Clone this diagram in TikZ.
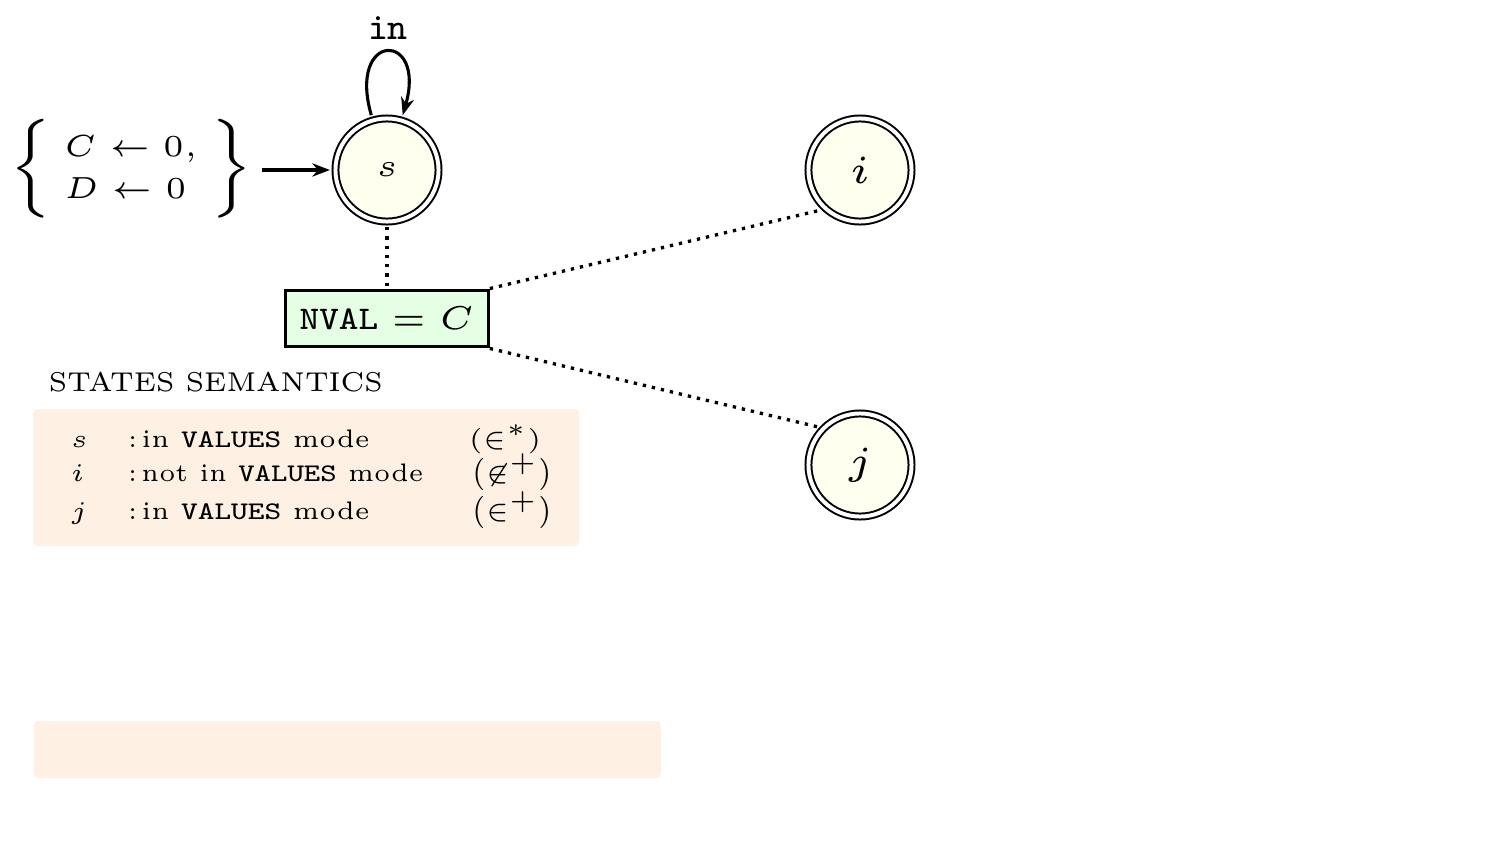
\documentclass[tikz,border=0pt]{standalone}
\usepackage{graphicx}
\usetikzlibrary{arrows.meta}
\definecolor{stfill}{RGB}{255,255,240}
\definecolor{boxgreen}{RGB}{229,255,229}
\definecolor{notefill}{RGB}{254,241,228}
% small design-size text, enlarged by a given factor
\newcommand{\smalltxt}[2]{\scalebox{#1}{\fontsize{5}{7}\selectfont #2}}
% same, with separate horizontal and vertical factors
\newcommand{\smalltxtxy}[3]{\scalebox{#1}[#2]{\fontsize{5}{7}\selectfont #3}}
% wide typewriter text
\newcommand{\widett}[1]{\scalebox{1.3}[1]{\texttt{#1}}}
% slightly taller delimiter, centred on the math axis
\newcommand{\tallparen}[1]{\vcenter{\hbox{\scalebox{1}[1.27]{$#1$}}}}
% brace of a fixed height, centred on the math axis
\newcommand{\bracedelim}[1]{\vcenter{\hbox{\nulldelimiterspace=0pt
  \scalebox{1}[0.9]{$\left#1\vcenter{\hbox{\rule{0pt}{14pt}}}\right.$}}}}
\begin{document}
\begin{tikzpicture}[x=0.227pt,y=0.227pt,
  state/.style={circle, draw, line width=0.45pt, double=white, double distance=0.9pt,
    fill=stfill, minimum size=23.4pt, inner sep=0pt, outer sep=1.25pt},
  arr/.style={line width=0.7pt, -{Stealth[length=4pt,width=3pt]}},
  dots/.style={line width=0.75pt, dash pattern=on 0.75pt off 1.35pt},
  note/.style={fill=notefill, rounded corners=1pt},
  lbl/.style={inner sep=0pt, anchor=base west},
]
\useasboundingbox (0,0) rectangle (1505,857);

% states
\node[state] (s) at (387,687) {\smalltxt{1.45}{$s$}};
\node[state] (i) at (860,687) {\smalltxt{1.8}{$i$}};
\node[state] (j) at (860,392) {\smalltxt{1.8}{$j$}};

% self loop on s
\draw[arr] (s.106) .. controls +(106:88) and +(74:88) .. (s.74);
\node (inlbl) at (388,829) {\smalltxt{1.7}{\ttfamily in}};

% initialisation
\node (init) at (131,688)
  {\smalltxt{1.385}{\setlength{\arraycolsep}{2.2pt}%
   $\mathopen{\bracedelim\{}\begin{array}{l} C\leftarrow 0,\\ D\leftarrow 0\end{array}\mathclose{\bracedelim\}}$}};
\coordinate (start) at (262,687);
\draw[arr] (start) -- (s);

% counter restriction
\node[draw, line width=0.7pt, fill=boxgreen, minimum width=46pt, minimum height=12.9pt,
  inner sep=0pt] (nv) at (387,538.5)
  {\smalltxt{1.5}{$\scalebox{1.12}[1]{$\mathtt{NVAL}$}=C$}};
\draw[dots] (s.south) -- (nv.north);
\draw[dots] (nv.north east) -- (i.225);
\draw[dots] (nv.south east) -- (j.138);

% states semantics
\node[lbl] (title) at (48,466) {\scalebox{1.03}{\fontsize{6}{7}\selectfont STATES SEMANTICS}};
\path[note] (33,311) rectangle (579,448);
\node[lbl] (r1a) at (70,410) {\smalltxt{1.15}{$s$}};
\node[lbl] (r1b) at (127,410) {\smalltxtxy{1.1}{1.15}{:\,in \widett{VALUES} mode}};
\node[lbl] (r1c) at (468,410) {\smalltxt{1.15}{$(\in^{*})$}};
\node[lbl] (r2a) at (70,376) {\smalltxt{1.15}{$i$}};
\node[lbl] (r2b) at (127,376) {\smalltxtxy{1.08}{1.15}{:\,not in \widett{VALUES} mode}};
\node[lbl] (r2c) at (471,376) {\smalltxt{1.15}{$\mathopen{\tallparen{(}}\not\in^{+}\mathclose{\tallparen{)}}$}};
\node[lbl] (r3a) at (70,338) {\smalltxt{1.15}{$j$}};
\node[lbl] (r3b) at (127,338) {\smalltxtxy{1.1}{1.15}{:\,in \widett{VALUES} mode}};
\node[lbl] (r3c) at (471,338) {\smalltxt{1.15}{$\mathopen{\tallparen{(}}\in^{+}\mathclose{\tallparen{)}}$}};

% empty note area
\path[note] (34,79) rectangle (661,136);
\end{tikzpicture}
\end{document}
